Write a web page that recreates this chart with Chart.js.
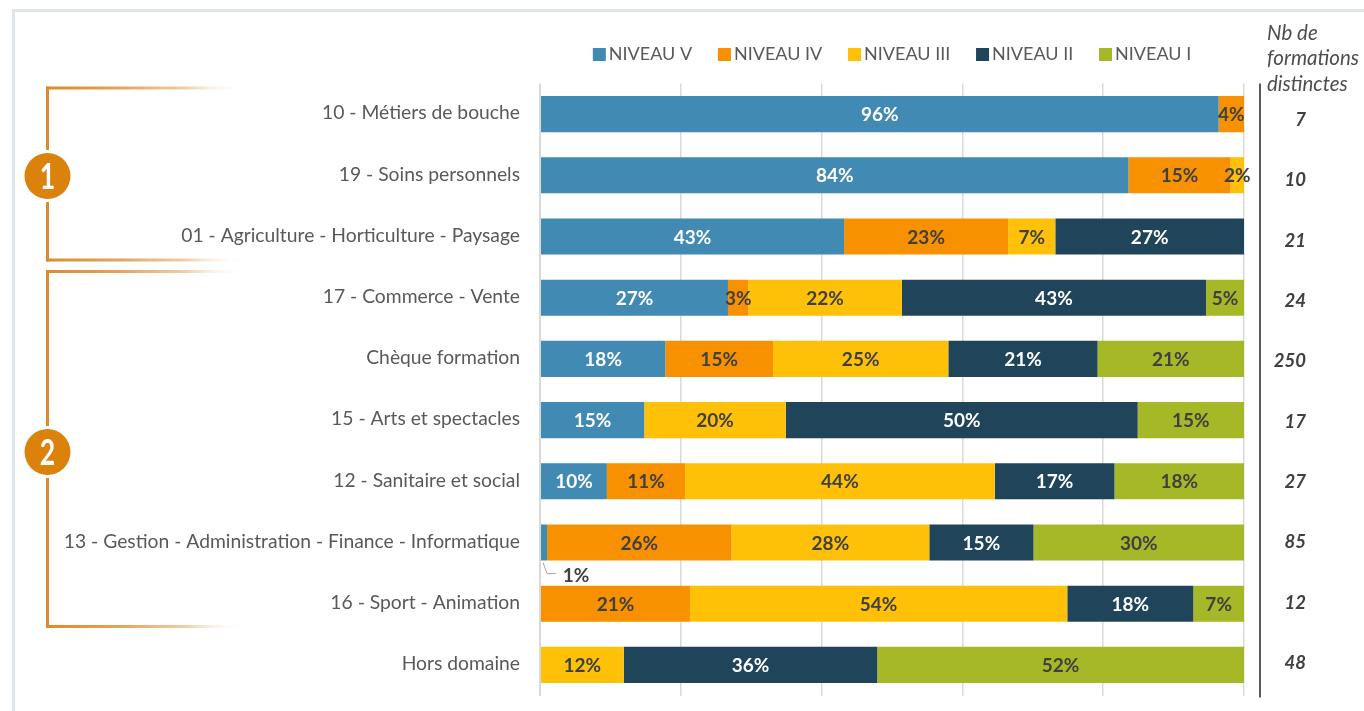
<!DOCTYPE html>
<html lang="fr">
<head>
<meta charset="utf-8">
<title>Niveaux de formation par domaine</title>
<style>html,body{margin:0;padding:0;background:#fff}canvas{display:block}</style>
<script src="https://cdn.jsdelivr.net/npm/chart.js@4"></script>
</head>
<body>
<canvas id="c" width="1364" height="711"></canvas>
<script>
const categories = [
  "10 - Métiers de bouche",
  "19 - Soins personnels",
  "01 - Agriculture - Horticulture - Paysage",
  "17 - Commerce - Vente",
  "Chèque formation",
  "15 - Arts et spectacles",
  "12 - Sanitaire et social",
  "13 - Gestion - Administration - Finance - Informatique",
  "16 - Sport - Animation",
  "Hors domaine"
];
const niveauV   = [96.4, 83.6, 43.2, 26.7, 17.8, 14.8,  9.5,  1.0,  0,    0];
const niveauIV  = [ 3.6, 14.5, 23.3,  2.9, 15.3,  0,   11.1, 26.2, 21.3,  0];
const niveauIII = [ 0,    1.9,  6.7, 21.8, 24.9, 20.1, 44.0, 28.1, 53.6, 11.9];
const niveauII  = [ 0,    0,   26.8, 43.2, 21.2, 50.0, 17.0, 14.8, 17.9, 36.0];
const niveauI   = [ 0,    0,    0,    5.4, 20.8, 15.1, 18.4, 29.9,  7.2, 52.1];
const nbFormations = [7, 10, 21, 24, 250, 17, 27, 85, 12, 48];
const countTitle = ["Nb de", "formations", "distinctes"];

const FONT = 'Lato, "Open Sans", sans-serif';
const GREY = '#595959', DARK = '#404040';
const C = {v:'#418ab3', iv:'#f79100', iii:'#ffc107', ii:'#20445a', i:'#a6b727'};

const mk = (label, data, color, text) => ({label, data, backgroundColor:color, labelColor:text,
  borderWidth:0, categoryPercentage:1, barPercentage:0.59});

const decor = {
  id:'decor',
  afterDraw(chart){
    const {ctx, chartArea:a, scales:{x,y}} = chart;
    ctx.save();
    // outer frame
    ctx.strokeStyle='#dde4ea'; ctx.lineWidth=3;
    ctx.beginPath(); ctx.moveTo(13.5,711); ctx.lineTo(13.5,10.5); ctx.lineTo(1364,10.5); ctx.stroke();

    // segment labels
    ctx.textBaseline='middle'; ctx.textAlign='center';
    ctx.font='bold 19px '+FONT;
    chart.data.datasets.forEach((ds,di)=>{
      chart.getDatasetMeta(di).data.forEach((bar,i)=>{
        const v=ds.data[i]; if(!v) return;
        const txt=Math.round(v)+'%';
        ctx.fillStyle=ds.labelColor;
        if(v<=1){
          // small segment: label sits below the bar, with a leader line
          const bottom=bar.y+bar.height/2;
          ctx.fillStyle=DARK;
          ctx.fillText(txt,bar.x+29,bottom+15);
          ctx.strokeStyle='#a6a6a6'; ctx.lineWidth=1;
          ctx.beginPath(); ctx.moveTo(bar.x-4,bottom+2); ctx.lineTo(bar.x,bottom+13); ctx.lineTo(bar.x+9,bottom+13); ctx.stroke();
        } else {
          ctx.fillText(txt,(bar.x+bar.base)/2,bar.y+1);
        }
      });
    });

    // legend
    const items=chart.data.datasets.map(d=>({t:d.label,c:d.backgroundColor}));
    ctx.font='18px '+FONT; ctx.textAlign='left';
    const boxW=13, gapT=3, gapI=25.8;
    const total=items.reduce((s,it)=>s+boxW+gapT+ctx.measureText(it.t).width,0)+gapI*(items.length-1);
    let lx=(a.left+a.right)/2-total/2;
    items.forEach(it=>{
      ctx.fillStyle=it.c; ctx.fillRect(lx,48,boxW,13);
      ctx.fillStyle=GREY; ctx.fillText(it.t,lx+boxW+gapT,54);
      lx+=boxW+gapT+ctx.measureText(it.t).width+gapI;
    });

    // right-hand column: separator, title and counts
    const sepX=a.right+16;
    ctx.strokeStyle=GREY; ctx.lineWidth=2;
    ctx.beginPath(); ctx.moveTo(sepX,a.top); ctx.lineTo(sepX,a.bottom+2); ctx.stroke();
    ctx.font='italic 20.5px '+FONT; ctx.fillStyle='#4d4d4d'; ctx.textAlign='left';
    countTitle.forEach((t,i)=>ctx.fillText(t,sepX+7,33+25.5*i));
    ctx.font='italic bold 18.5px '+FONT; ctx.fillStyle=DARK; ctx.textAlign='right';
    const mid=(y.top+y.bottom)/2;
    nbFormations.forEach((n,i)=>{
      const py=mid+2+(y.getPixelForValue(i)-mid)*0.986;
      ctx.fillText(String(n),sepX+46,py);
    });

    // brackets
    const bracket=(top,bottom,badgeY,digit)=>{
      const bx=47.5, fade=246;
      const g=(yy)=>{const gr=ctx.createLinearGradient(bx,0,fade,0);
        gr.addColorStop(0,'#de8a2a');gr.addColorStop(.35,'#e5a256');gr.addColorStop(.7,'#f1cfa6');gr.addColorStop(1,'rgba(255,255,255,0)');
        ctx.fillStyle=gr;ctx.fillRect(bx-1.5,yy-1.5,fade-bx+1.5,3);};
      g(top); g(bottom);
      ctx.fillStyle='#de8a2a'; ctx.fillRect(bx-1.5,top-1.5,3,bottom-top+3);
      ctx.beginPath(); ctx.arc(bx,badgeY,26,0,Math.PI*2); ctx.fillStyle='#fff'; ctx.fill();
      ctx.beginPath(); ctx.arc(bx,badgeY,23,0,Math.PI*2); ctx.fillStyle='#db820d'; ctx.fill();
      ctx.save();
      ctx.translate(bx,badgeY+1); ctx.scale(0.72,1);
      ctx.fillStyle='#fff'; ctx.font='bold 37px '+FONT;
      ctx.textAlign='center'; ctx.textBaseline='middle';
      ctx.fillText(digit,0,0);
      ctx.restore();
    };
    bracket(88,260,176,'1');
    bracket(271.5,626.5,452,'2');
    ctx.restore();
  }
};

new Chart(document.getElementById('c'),{
  type:'bar',
  data:{labels:categories,datasets:[
    mk('NIVEAU V',niveauV,C.v,'#fff'),
    mk('NIVEAU IV',niveauIV,C.iv,DARK),
    mk('NIVEAU III',niveauIII,C.iii,DARK),
    mk('NIVEAU II',niveauII,C.ii,'#fff'),
    mk('NIVEAU I',niveauI,C.i,DARK)
  ]},
  options:{
    indexAxis:'y',responsive:false,animation:false,
    layout:{padding:{top:83.5,right:120,bottom:15.5,left:0}},
    plugins:{legend:{display:false},tooltip:{enabled:false}},
    scales:{
      x:{stacked:true,min:0,max:100,
        afterFit(s){s.height=0;},
        ticks:{display:false,stepSize:20},
        grid:{color:'#d9d9d9',lineWidth:c=>c.index===0?2:1.5,drawTicks:false},
        border:{display:false}},
      y:{stacked:true,
        afterFit(s){s.width=540;s.paddingTop=0;s.paddingBottom=0;},
        ticks:{color:GREY,font:{family:FONT,size:19.3},padding:20,labelOffset:-1,autoSkip:false},
        grid:{display:false,drawTicks:false},
        border:{display:false}}
    }
  },
  plugins:[decor]
});
</script>
</body>
</html>
